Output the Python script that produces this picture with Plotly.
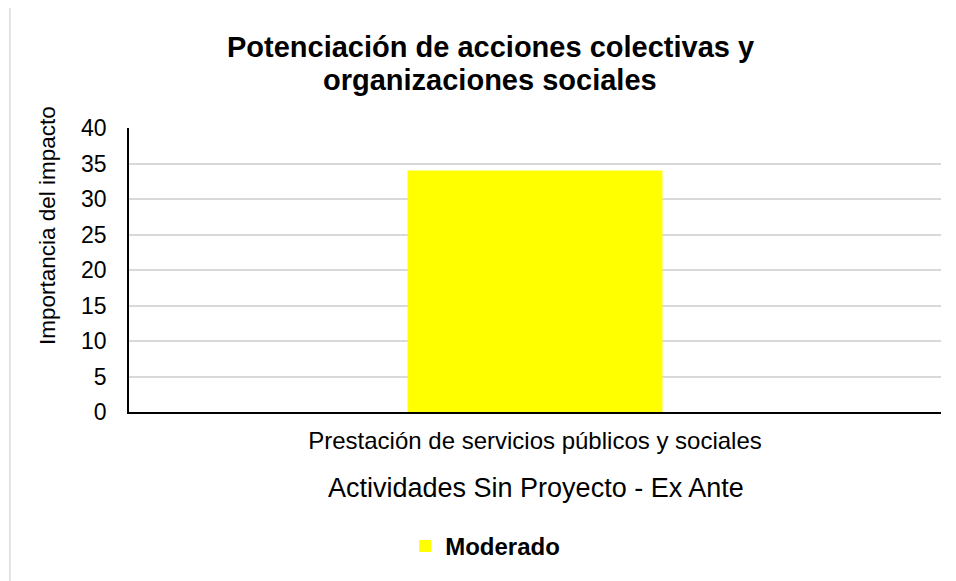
import plotly.graph_objects as go

categories = ["Prestación de servicios públicos y sociales"]
values = [34]
series_name = "Moderado"
title_lines = ["Potenciación de acciones colectivas y", "organizaciones sociales"]
y_title = "Importancia del impacto"
x_title = "Actividades Sin Proyecto - Ex Ante"
y_ticks = [0, 5, 10, 15, 20, 25, 30, 35, 40]

# page body has an 8px margin; figure origin sits at screen (8, 8)
OFF = 8
W, H = 948, 573
L, R, T, B = 121, 15.4, 120, 169.3
PW = W - L - R
PH = H - T - B

def px(x):  # screen x -> paper
    return (x - OFF - L) / PW

def py(y):  # screen y -> paper
    return (H - B - (y - OFF)) / PH

FONT = "Liberation Sans, Arial, sans-serif"

fig = go.Figure()
fig.add_trace(go.Bar(
    x=categories, y=values, name=series_name,
    marker=dict(color="#FFFF00", line=dict(width=0)),
    showlegend=True,
))

title_y = [47, 80]
annotations = [
    dict(text="<b>" + s + "</b>", x=px(490), y=py(yy), xref="paper", yref="paper",
         xanchor="center", yanchor="middle", showarrow=False,
         font=dict(size=29, family=FONT, color="black"))
    for s, yy in zip(title_lines, title_y)
]
annotations += [
    dict(text=y_title, x=px(47), y=py(225), xref="paper", yref="paper",
         xanchor="center", yanchor="middle", textangle=-90, showarrow=False,
         font=dict(size=22.5, family=FONT, color="black")),
    dict(text=x_title, x=px(536), y=py(488), xref="paper", yref="paper",
         xanchor="center", yanchor="middle", showarrow=False,
         font=dict(size=27, family=FONT, color="black")),
]

fig.update_layout(
    width=W, height=H,
    margin=dict(l=L, r=R, t=T, b=B),
    paper_bgcolor="white", plot_bgcolor="white",
    bargap=0.686,
    font=dict(family=FONT, color="black"),
    showlegend=True,
    legend=dict(
        orientation="h", x=px(405), y=py(546), xanchor="left", yanchor="middle",
        font=dict(family=FONT, size=24, color="black", weight="bold"),
        bgcolor="rgba(0,0,0,0)", itemwidth=30,
    ),
    xaxis=dict(
        showline=True, linecolor="black", linewidth=1.6,
        ticks="outside", ticklen=6, tickcolor="rgba(0,0,0,0)",
        tickfont=dict(size=24, family=FONT, color="#000"),
        showgrid=False, zeroline=False,
    ),
    yaxis=dict(
        range=[0, 40], tickvals=y_ticks,
        showline=True, linecolor="black", linewidth=1.6,
        ticks="outside", ticklen=16, tickcolor="rgba(0,0,0,0)",
        tickfont=dict(size=23, family=FONT, color="#000"),
        showgrid=True, gridcolor="#d9d9d9", gridwidth=1.8,
        zeroline=False,
    ),
    annotations=annotations,
    shapes=[
        dict(type="rect", xref="paper", yref="paper",
             x0=px(10), y0=py(7), x1=px(1000), y1=py(620),
             line=dict(color="#d9d9d9", width=1.5), fillcolor="rgba(0,0,0,0)",
             layer="below"),
    ],
)

fig.write_html("out.html")
